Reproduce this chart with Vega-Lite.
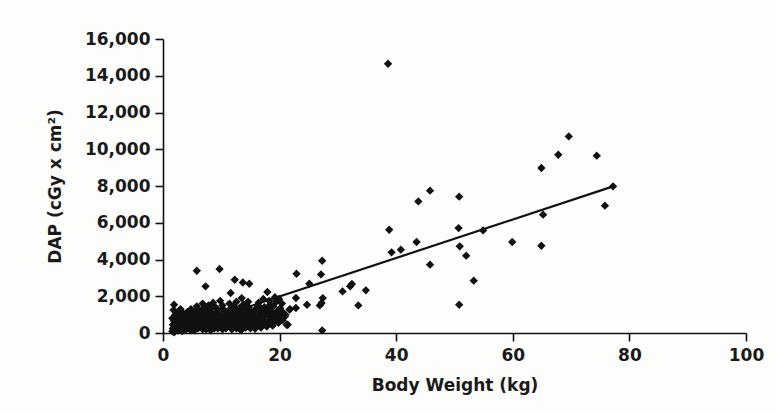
{
  "$schema": "https://vega.github.io/schema/vega-lite/v6.json",
  "width": 583,
  "height": 294,
  "autosize": {"type": "none"},
  "padding": {"left": 163, "top": 39, "right": 30, "bottom": 81},
  "background": "#fdfdfb",
  "config": {
    "view": {"stroke": null},
    "axis": {
      "grid": false,
      "domainColor": "#111",
      "domainWidth": 1.6,
      "tickColor": "#111",
      "tickWidth": 1.6,
      "labelFont": "DejaVu Sans",
      "labelFontWeight": "bold",
      "labelFontSize": 17,
      "labelColor": "#1a1a1a",
      "titleFont": "DejaVu Sans",
      "titleFontWeight": "bold",
      "titleFontSize": 17,
      "titleColor": "#1a1a1a"
    }
  },
  "datasets": {
    "pts": [
      {"w": 38.6, "d": 14650}, {"w": 64.9, "d": 8980}, {"w": 67.8, "d": 9700}, {"w": 69.6, "d": 10700},
      {"w": 74.4, "d": 9650}, {"w": 77.2, "d": 7980}, {"w": 75.8, "d": 6930}, {"w": 43.8, "d": 7160},
      {"w": 45.8, "d": 7745}, {"w": 50.8, "d": 7420}, {"w": 38.8, "d": 5620}, {"w": 50.7, "d": 5710},
      {"w": 54.9, "d": 5585}, {"w": 39.2, "d": 4390}, {"w": 40.8, "d": 4535}, {"w": 43.5, "d": 4950},
      {"w": 50.9, "d": 4715}, {"w": 52.0, "d": 4210}, {"w": 59.9, "d": 4950}, {"w": 64.9, "d": 4750},
      {"w": 65.2, "d": 6440}, {"w": 45.8, "d": 3720}, {"w": 53.3, "d": 2850}, {"w": 50.8, "d": 1540},
      {"w": 34.8, "d": 2320}, {"w": 27.3, "d": 3935}, {"w": 22.9, "d": 3225}, {"w": 27.1, "d": 3190},
      {"w": 25.1, "d": 2680}, {"w": 30.8, "d": 2265}, {"w": 32.1, "d": 2540}, {"w": 32.4, "d": 2665},
      {"w": 33.5, "d": 1500}, {"w": 22.8, "d": 1905}, {"w": 22.8, "d": 1360}, {"w": 21.8, "d": 1300},
      {"w": 24.7, "d": 1540}, {"w": 26.9, "d": 1500}, {"w": 27.2, "d": 1630}, {"w": 27.3, "d": 140},
      {"w": 21.4, "d": 450}, {"w": 20.9, "d": 900}, {"w": 27.4, "d": 1900}, {"w": 5.8, "d": 3390},
      {"w": 9.7, "d": 3480}, {"w": 7.3, "d": 2540}, {"w": 12.3, "d": 2900}, {"w": 13.7, "d": 2750},
      {"w": 14.8, "d": 2680}, {"w": 11.6, "d": 2180}, {"w": 17.9, "d": 2230}, {"w": 13.5, "d": 1900},
      {"w": 21.7, "d": 1270}, {"w": 21.2, "d": 450}, {"w": 15.8, "d": 230},
      {"w": 1.6, "d": 100}, {"w": 1.7, "d": 450}, {"w": 1.6, "d": 800}, {"w": 1.8, "d": 1250},
      {"w": 1.9, "d": 40}, {"w": 2.0, "d": 300}, {"w": 1.9, "d": 650}, {"w": 2.1, "d": 1000}, {"w": 1.9, "d": 1540},
      {"w": 2.3, "d": 200}, {"w": 2.2, "d": 550}, {"w": 2.4, "d": 900},
      {"w": 2.6, "d": 150}, {"w": 2.5, "d": 400}, {"w": 2.7, "d": 750}, {"w": 2.6, "d": 1100},
      {"w": 2.9, "d": 250}, {"w": 3.0, "d": 600}, {"w": 2.8, "d": 950}, {"w": 3.0, "d": 1300},
      {"w": 3.3, "d": 100}, {"w": 3.2, "d": 500}, {"w": 3.4, "d": 800},
      {"w": 3.6, "d": 300}, {"w": 3.7, "d": 700}, {"w": 3.5, "d": 1050},
      {"w": 4.0, "d": 200}, {"w": 4.1, "d": 550}, {"w": 3.9, "d": 900}, {"w": 4.2, "d": 1150},
      {"w": 4.4, "d": 350}, {"w": 4.5, "d": 650}, {"w": 4.3, "d": 1000},
      {"w": 4.8, "d": 150}, {"w": 4.9, "d": 500}, {"w": 4.7, "d": 850}, {"w": 5.0, "d": 1100}, {"w": 4.8, "d": 1300},
      {"w": 5.2, "d": 300}, {"w": 5.3, "d": 700}, {"w": 5.1, "d": 1000},
      {"w": 5.6, "d": 450}, {"w": 5.7, "d": 800}, {"w": 5.5, "d": 1150}, {"w": 5.8, "d": 1450},
      {"w": 6.0, "d": 250}, {"w": 6.1, "d": 600}, {"w": 5.9, "d": 900}, {"w": 6.2, "d": 1050},
      {"w": 6.4, "d": 400}, {"w": 6.5, "d": 750}, {"w": 6.3, "d": 1200},
      {"w": 6.8, "d": 200}, {"w": 6.9, "d": 550}, {"w": 6.7, "d": 950}, {"w": 7.0, "d": 1350}, {"w": 6.8, "d": 1600},
      {"w": 7.2, "d": 350}, {"w": 7.3, "d": 700}, {"w": 7.1, "d": 1050},
      {"w": 7.6, "d": 500}, {"w": 7.7, "d": 850}, {"w": 7.5, "d": 1150}, {"w": 7.8, "d": 1500},
      {"w": 8.0, "d": 300}, {"w": 8.1, "d": 650}, {"w": 7.9, "d": 1000}, {"w": 8.2, "d": 1300},
      {"w": 8.4, "d": 450}, {"w": 8.5, "d": 800}, {"w": 8.3, "d": 1100}, {"w": 8.6, "d": 1650},
      {"w": 8.8, "d": 250}, {"w": 8.9, "d": 600}, {"w": 8.7, "d": 950}, {"w": 9.0, "d": 1400},
      {"w": 9.2, "d": 400}, {"w": 9.3, "d": 750}, {"w": 9.1, "d": 1050}, {"w": 9.4, "d": 1250},
      {"w": 9.6, "d": 550}, {"w": 9.7, "d": 900}, {"w": 9.5, "d": 1200}, {"w": 9.8, "d": 1750},
      {"w": 10.0, "d": 350}, {"w": 10.1, "d": 700}, {"w": 9.9, "d": 1000}, {"w": 10.2, "d": 1500},
      {"w": 10.4, "d": 500}, {"w": 10.5, "d": 850}, {"w": 10.3, "d": 1300},
      {"w": 10.8, "d": 250}, {"w": 10.9, "d": 650}, {"w": 10.7, "d": 1000}, {"w": 11.0, "d": 1150},
      {"w": 11.2, "d": 450}, {"w": 11.3, "d": 800}, {"w": 11.1, "d": 1100}, {"w": 11.4, "d": 1600},
      {"w": 11.6, "d": 600}, {"w": 11.7, "d": 950}, {"w": 11.5, "d": 1300},
      {"w": 12.0, "d": 300}, {"w": 12.1, "d": 700}, {"w": 11.9, "d": 1050}, {"w": 12.2, "d": 1450},
      {"w": 12.4, "d": 500}, {"w": 12.5, "d": 900}, {"w": 12.3, "d": 1200}, {"w": 12.6, "d": 1700},
      {"w": 12.8, "d": 400}, {"w": 12.9, "d": 800}, {"w": 12.7, "d": 1100},
      {"w": 13.2, "d": 600}, {"w": 13.3, "d": 1000}, {"w": 13.1, "d": 1350},
      {"w": 13.6, "d": 350}, {"w": 13.7, "d": 750}, {"w": 13.5, "d": 1100}, {"w": 13.8, "d": 1550},
      {"w": 14.0, "d": 550}, {"w": 14.1, "d": 950}, {"w": 13.9, "d": 1250},
      {"w": 14.4, "d": 450}, {"w": 14.5, "d": 850}, {"w": 14.3, "d": 1150}, {"w": 14.6, "d": 1700},
      {"w": 14.8, "d": 650}, {"w": 14.9, "d": 1050}, {"w": 14.7, "d": 1400},
      {"w": 15.2, "d": 400}, {"w": 15.3, "d": 800}, {"w": 15.1, "d": 1150},
      {"w": 15.7, "d": 500}, {"w": 15.8, "d": 650}, {"w": 15.6, "d": 950}, {"w": 15.9, "d": 1300},
      {"w": 16.2, "d": 500}, {"w": 16.3, "d": 900}, {"w": 16.1, "d": 1250}, {"w": 16.4, "d": 1650},
      {"w": 16.6, "d": 700}, {"w": 16.7, "d": 1100}, {"w": 16.5, "d": 1450},
      {"w": 17.0, "d": 450}, {"w": 17.1, "d": 850}, {"w": 16.9, "d": 1200}, {"w": 17.2, "d": 1850},
      {"w": 17.5, "d": 650}, {"w": 17.6, "d": 1000}, {"w": 17.4, "d": 1400},
      {"w": 18.0, "d": 550}, {"w": 18.1, "d": 950}, {"w": 17.9, "d": 1300}, {"w": 18.2, "d": 1750},
      {"w": 18.5, "d": 800}, {"w": 18.6, "d": 1150}, {"w": 18.4, "d": 1550},
      {"w": 19.0, "d": 600}, {"w": 19.1, "d": 1000}, {"w": 18.9, "d": 1450}, {"w": 19.2, "d": 1950},
      {"w": 19.5, "d": 750}, {"w": 19.6, "d": 1200}, {"w": 19.4, "d": 1700},
      {"w": 20.0, "d": 900}, {"w": 20.1, "d": 1350}, {"w": 19.9, "d": 1850},
      {"w": 20.5, "d": 700}, {"w": 20.6, "d": 1100}, {"w": 20.4, "d": 1600},
      {"w": 21.0, "d": 1000},
      {"w": 1.7, "d": 250}, {"w": 2.1, "d": 150}, {"w": 2.4, "d": 700}, {"w": 2.8, "d": 450},
      {"w": 3.1, "d": 250}, {"w": 3.5, "d": 600}, {"w": 3.8, "d": 450}, {"w": 4.2, "d": 750},
      {"w": 4.6, "d": 250}, {"w": 5.0, "d": 650}, {"w": 5.4, "d": 150}, {"w": 5.8, "d": 350},
      {"w": 6.2, "d": 750}, {"w": 6.6, "d": 300}, {"w": 7.0, "d": 800}, {"w": 7.4, "d": 200},
      {"w": 7.8, "d": 650}, {"w": 8.2, "d": 150}, {"w": 8.6, "d": 550}, {"w": 9.0, "d": 850},
      {"w": 9.4, "d": 250}, {"w": 9.8, "d": 700}, {"w": 10.2, "d": 200}, {"w": 10.6, "d": 950},
      {"w": 11.0, "d": 350}, {"w": 11.4, "d": 650}, {"w": 11.8, "d": 200}, {"w": 12.2, "d": 850},
      {"w": 12.6, "d": 250}, {"w": 13.0, "d": 650}, {"w": 13.4, "d": 150}, {"w": 13.8, "d": 900},
      {"w": 14.2, "d": 300}, {"w": 14.6, "d": 700}, {"w": 15.0, "d": 250}, {"w": 15.4, "d": 1000},
      {"w": 16.0, "d": 350}, {"w": 16.8, "d": 300}, {"w": 17.3, "d": 600}, {"w": 17.8, "d": 350},
      {"w": 18.3, "d": 700}, {"w": 18.8, "d": 400}, {"w": 19.3, "d": 900}, {"w": 19.8, "d": 550},
      {"w": 20.2, "d": 1200}, {"w": 20.7, "d": 850}
    ],
    "fit": [
      {"w": 2, "d": 100},
      {"w": 77.2, "d": 7980}
    ]
  },
  "encoding": {
    "x": {
      "field": "w", "type": "quantitative",
      "scale": {"domain": [0, 100], "nice": false},
      "axis": {"title": "Body Weight (kg)", "values": [0, 20, 40, 60, 80, 100], "tickSize": 8, "labelPadding": 6, "titlePadding": 14, "labelFlush": false, "labelOverlap": false}
    },
    "y": {
      "field": "d", "type": "quantitative",
      "scale": {"domain": [0, 16000], "nice": false},
      "axis": {"title": "DAP (cGy x cm²)", "values": [0, 2000, 4000, 6000, 8000, 10000, 12000, 14000, 16000], "format": ",d", "tickSize": 8, "labelPadding": 5, "titlePadding": 20, "labelFlush": false, "labelOverlap": false}
    }
  },
  "layer": [
    {
      "data": {"name": "fit"},
      "mark": {"type": "line", "color": "#111", "strokeWidth": 2.2}
    },
    {
      "data": {"name": "pts"},
      "mark": {"type": "point", "shape": "diamond", "filled": true, "color": "#111", "size": 70, "opacity": 1}
    }
  ]
}
